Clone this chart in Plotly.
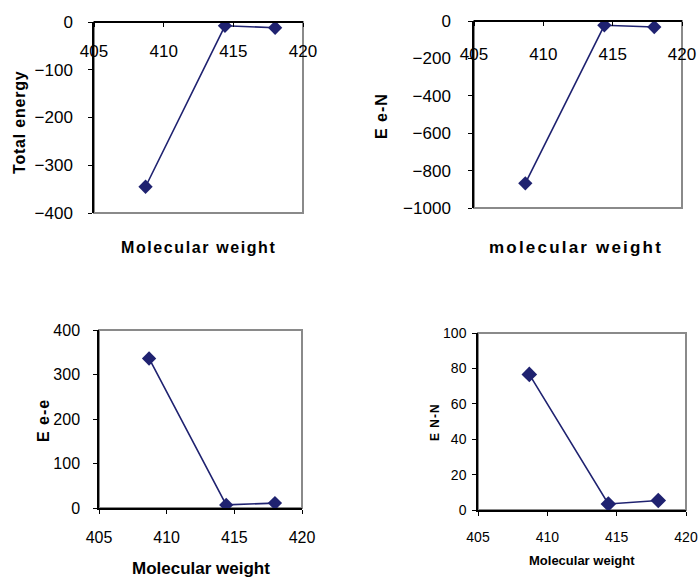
import plotly.graph_objects as go

W, H = 699, 579

# ---- data ----
mol_weight = [408.7, 414.4, 418.0]
total_energy = [-345, -8, -12]
e_eN = [-868, -23, -32]
e_ee = [336, 7, 11]
e_NN = [76.6, 3.4, 5.4]

x_ticks = [405, 410, 415, 420]

NAVY = "#1f2270"
FONT = "Liberation Sans, Arial, sans-serif"

def px(x):
    return x / W

def py(y):
    return 1 - y / H

fig = go.Figure()

panels = [
    dict(ax="x", ay="y", y=total_energy, yr=[-400, 0], dt=100,
         dx=(94, 303), dy=(22, 213), fs=17, top=True, ms=11, sx=10, sy=12),
    dict(ax="x2", ay="y2", y=e_eN, yr=[-1000, 0], dt=200,
         dx=(474, 682), dy=(21, 208), fs=17, top=True, ms=11, sx=14, sy=14),
    dict(ax="x3", ay="y3", y=e_ee, yr=[0, 400], dt=100,
         dx=(99, 302), dy=(330, 508), fs=16, top=False, ms=11, sx=10, sy=10),
    dict(ax="x4", ay="y4", y=e_NN, yr=[0, 100], dt=20,
         dx=(478, 686), dy=(333, 510), fs=14, top=False, ms=12, sx=9, sy=3),
]

layout = dict(
    template="none",
    width=W, height=H,
    margin=dict(l=0, r=0, t=0, b=0, pad=0),
    paper_bgcolor="white", plot_bgcolor="white",
    showlegend=False,
    font=dict(family=FONT, color="black"),
    shapes=[], annotations=[],
)

for i, p in enumerate(panels):
    fig.add_trace(go.Scatter(
        x=mol_weight, y=p["y"], xaxis=p["ax"], yaxis=p["ay"],
        mode="lines+markers",
        line=dict(color=NAVY, width=1.6),
        marker=dict(symbol="diamond", size=p["ms"], color=NAVY),
        hoverinfo="skip",
    ))
    xname = "xaxis" if i == 0 else f"xaxis{i+1}"
    yname = "yaxis" if i == 0 else f"yaxis{i+1}"
    dom_x = [px(p["dx"][0]), px(p["dx"][1])]
    dom_y = [py(p["dy"][1]), py(p["dy"][0])]
    xa = dict(
        domain=dom_x, range=[405, 420], tickvals=x_ticks,
        automargin=False,
        showgrid=False, zeroline=False,
        showline=True, linecolor="black", linewidth=1.5,
        ticks="outside", ticklen=4, tickcolor="black", tickwidth=1,
        tickfont=dict(size=p["fs"], family=FONT, color="black"),
        ticklabelstandoff=p["sx"],
    )
    if p["top"]:
        xa.update(anchor="free", position=dom_y[1], side="bottom")
    else:
        xa.update(anchor=p["ay"])
    ya = dict(
        domain=dom_y, range=p["yr"], dtick=p["dt"],
        anchor=p["ax"], automargin=False,
        showgrid=False, zeroline=False,
        showline=True, linecolor="black", linewidth=1.5,
        ticks="outside", ticklen=4, tickcolor="black", tickwidth=1,
        tickfont=dict(size=p["fs"], family=FONT, color="black"),
        ticklabelstandoff=p["sy"],
    )
    layout[xname] = xa
    layout[yname] = ya
    layout["shapes"].append(dict(
        type="rect", xref=f"{p['ax']} domain", yref=f"{p['ay']} domain",
        x0=0, x1=1, y0=0, y1=1, layer="below",
        line=dict(color="#8a8a8a", width=2),
    ))

def ann(text, x, y, size, angle=0, spacing=0):
    t = text
    if spacing:
        t = f'<span style="letter-spacing:{spacing}px">{text}</span>'
    layout["annotations"].append(dict(
        text=f"<b>{t}</b>", x=px(x), y=py(y), xref="paper", yref="paper",
        showarrow=False, textangle=angle, xanchor="center", yanchor="middle",
        font=dict(size=size, family=FONT, color="black"),
    ))

ann("Molecular weight", 198, 247, 16, spacing=1.6)
ann("Total energy", 19, 122, 16, angle=-90, spacing=0.8)
ann("molecular weight", 576, 247, 17, spacing=2.2)
ann("E e-N", 382, 116, 16, angle=-90, spacing=1)
ann("E e-e", 43, 421, 16, angle=-90, spacing=1)
ann("Molecular weight", 201, 568, 17)
ann("E N-N", 435, 422, 12, angle=-90, spacing=1)
ann("Molecular weight", 582, 560, 13)

fig.update_layout(**layout)
fig.write_html("out.html")
